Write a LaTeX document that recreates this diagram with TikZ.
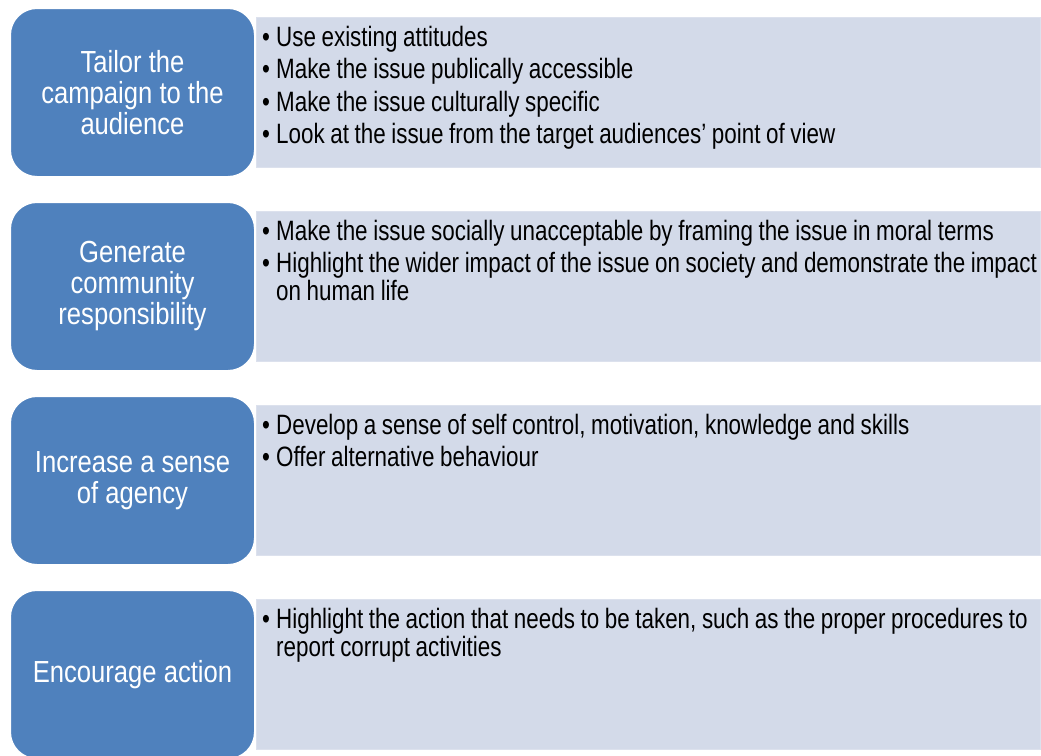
\documentclass[tikz,border=0pt]{standalone}
\usepackage{fontspec}
\usetikzlibrary{positioning}
\setmainfont{Liberation Sans}
\newfontfamily\headfont[FakeStretch=0.84]{Liberation Sans}
\newfontfamily\itemfont[FakeStretch=0.80]{Liberation Sans}

\definecolor{headblue}{RGB}{79,129,189}
\definecolor{panelgrey}{RGB}{211,218,233}

% fonts for the headings and the lists
\newcommand\headtext{\headfont\fontsize{30.5}{31}\selectfont}
\newcommand\itemtext{\itemfont\fontsize{28}{28}\selectfont}

% one bullet point, wrapped lines hang under the text
\newcommand\bitem[1]{\setlength\parskip{4.3pt}\spaceskip=5.6pt plus 1pt minus 1pt\relax
  \hangindent=14pt\hangafter=1\makebox[14pt][l]{\textbullet}#1\par}

\tikzset{
  head/.style={draw=white, line width=2pt, fill=headblue, rounded corners=27pt,
    minimum width=245pt, minimum height=169pt, inner sep=0pt,
    text=white, align=center, font=\headtext},
  panel/.style={draw=panelgrey!80!white, line width=1.2pt, fill=panelgrey,
    minimum width=784pt, minimum height=150pt, inner sep=0pt},
  items/.style={anchor=base west, text width=900pt, align=left, inner sep=0pt,
    font=\itemtext},
}

\begin{document}
\begin{tikzpicture}[x=1pt,y=-1pt]
\useasboundingbox [fill=white] (0,0) rectangle (1041,755);

% blue headings down the left
\node [head, anchor=north west] (headA) at (9,7) {Tailor the\\campaign to the\\audience};
\node [head, below=23pt of headA] (headB) {Generate\\community\\responsibility};
\node [head, below=23pt of headB] (headC) {Increase a sense\\of agency};
\node [head, below=23pt of headC] (headD) {Encourage action};

% grey panels to the right of them
\node [panel, right=0pt of headA] (panelA) {};
\node [panel, right=0pt of headB] (panelB) {};
\node [panel, right=0pt of headC] (panelC) {};
\node [panel, right=0pt of headD] (panelD) {};

% bullet lists
\node [items] (itemsA) at ([shift={(6,29.5)}]panelA.north west) {%
\bitem{Use existing attitudes}%
\bitem{Make the issue publically accessible}%
\bitem{Make the issue culturally specific}%
\bitem{Look at the issue from the target audiences’ point of view}};

\node [items] (itemsB) at ([shift={(6,29.5)}]panelB.north west) {%
\bitem{Make the issue socially unacceptable by framing the issue in moral terms}%
\bitem{Highlight the wider impact of the issue on society and demonstrate the impact\newline on human life}};

\node [items] (itemsC) at ([shift={(6,29.5)}]panelC.north west) {%
\bitem{Develop a sense of self control, motivation, knowledge and skills}%
\bitem{Offer alternative behaviour}};

\node [items] (itemsD) at ([shift={(6,29.5)}]panelD.north west) {%
\bitem{Highlight the action that needs to be taken, such as the proper procedures to\newline report corrupt activities}};
\end{tikzpicture}
\end{document}
